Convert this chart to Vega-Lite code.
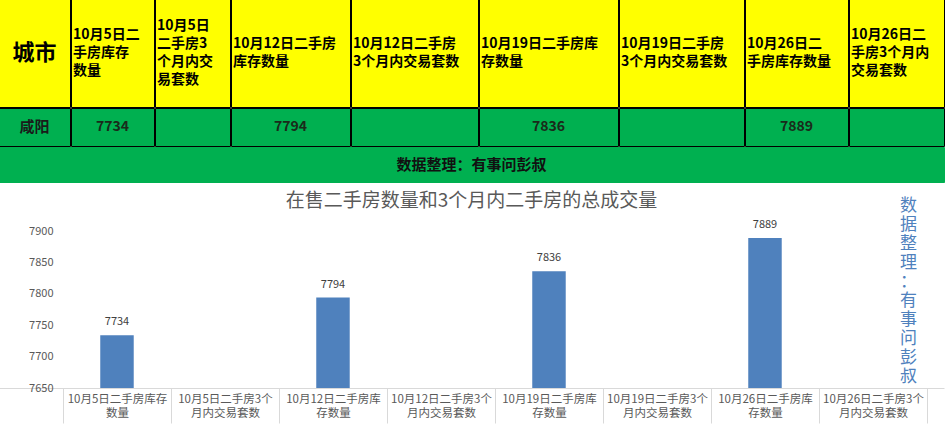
{
  "$schema": "https://vega.github.io/schema/vega-lite/v6.json",
  "padding": {"left": -2, "top": -2, "right": 0, "bottom": 0},
  "background": "white",
  "spacing": 8,
  "config": {"view": {"stroke": null}, "font": "Noto Sans CJK SC"},
  "vconcat": [
    {
      "spacing": -4,
      "vconcat": [
        {
          "spacing": -4,
          "hconcat": [
            {"width": 71, "height": 108, "view": {"fill": "#ffff00", "stroke": "#000000"},
             "data": {"values": [{"label": "城市"}]},
             "mark": {"type": "text", "fontSize": 22, "fontWeight": "bold", "color": "#000000"},
             "encoding": {"text": {"field": "label"}}},
            {"width": 83, "height": 108, "view": {"fill": "#ffff00", "stroke": "#000000"},
             "data": {"values": [{"label": ["10月5日二", "手房库存", "数量"]}]},
             "mark": {"type": "text", "align": "left", "dx": 2, "dy": -18, "fontSize": 14, "fontWeight": "bold", "lineHeight": 18, "color": "#000000"},
             "encoding": {"text": {"field": "label"}, "x": {"datum": 0, "scale": {"domain": [0, 1]}, "axis": null}}},
            {"width": 75, "height": 108, "view": {"fill": "#ffff00", "stroke": "#000000"},
             "data": {"values": [{"label": ["10月5日", "二手房3", "个月内交", "易套数"]}]},
             "mark": {"type": "text", "align": "left", "dx": 2, "dy": -27, "fontSize": 14, "fontWeight": "bold", "lineHeight": 18, "color": "#000000"},
             "encoding": {"text": {"field": "label"}, "x": {"datum": 0, "scale": {"domain": [0, 1]}, "axis": null}}},
            {"width": 119, "height": 108, "view": {"fill": "#ffff00", "stroke": "#000000"},
             "data": {"values": [{"label": ["10月12日二手房", "库存数量"]}]},
             "mark": {"type": "text", "align": "left", "dx": 2, "dy": -9, "fontSize": 14, "fontWeight": "bold", "lineHeight": 18, "color": "#000000"},
             "encoding": {"text": {"field": "label"}, "x": {"datum": 0, "scale": {"domain": [0, 1]}, "axis": null}}},
            {"width": 127, "height": 108, "view": {"fill": "#ffff00", "stroke": "#000000"},
             "data": {"values": [{"label": ["10月12日二手房", "3个月内交易套数"]}]},
             "mark": {"type": "text", "align": "left", "dx": 2, "dy": -9, "fontSize": 14, "fontWeight": "bold", "lineHeight": 18, "color": "#000000"},
             "encoding": {"text": {"field": "label"}, "x": {"datum": 0, "scale": {"domain": [0, 1]}, "axis": null}}},
            {"width": 139, "height": 108, "view": {"fill": "#ffff00", "stroke": "#000000"},
             "data": {"values": [{"label": ["10月19日二手房库", "存数量"]}]},
             "mark": {"type": "text", "align": "left", "dx": 2, "dy": -9, "fontSize": 14, "fontWeight": "bold", "lineHeight": 18, "color": "#000000"},
             "encoding": {"text": {"field": "label"}, "x": {"datum": 0, "scale": {"domain": [0, 1]}, "axis": null}}},
            {"width": 125, "height": 108, "view": {"fill": "#ffff00", "stroke": "#000000"},
             "data": {"values": [{"label": ["10月19日二手房", "3个月内交易套数"]}]},
             "mark": {"type": "text", "align": "left", "dx": 2, "dy": -9, "fontSize": 14, "fontWeight": "bold", "lineHeight": 18, "color": "#000000"},
             "encoding": {"text": {"field": "label"}, "x": {"datum": 0, "scale": {"domain": [0, 1]}, "axis": null}}},
            {"width": 103, "height": 108, "view": {"fill": "#ffff00", "stroke": "#000000"},
             "data": {"values": [{"label": ["10月26日二", "手房库存数量"]}]},
             "mark": {"type": "text", "align": "left", "dx": 2, "dy": -9, "fontSize": 14, "fontWeight": "bold", "lineHeight": 18, "color": "#000000"},
             "encoding": {"text": {"field": "label"}, "x": {"datum": 0, "scale": {"domain": [0, 1]}, "axis": null}}},
            {"width": 95, "height": 108, "view": {"fill": "#ffff00", "stroke": "#000000"},
             "data": {"values": [{"label": ["10月26日二", "手房3个月内", "交易套数"]}]},
             "mark": {"type": "text", "align": "left", "dx": 2, "dy": -18, "fontSize": 14, "fontWeight": "bold", "lineHeight": 18, "color": "#000000"},
             "encoding": {"text": {"field": "label"}, "x": {"datum": 0, "scale": {"domain": [0, 1]}, "axis": null}}}
          ]
        },
        {
          "spacing": -4,
          "hconcat": [
            {"width": 71, "height": 38, "view": {"fill": "#00b050", "stroke": "#000000"},
             "data": {"values": [{"v": "咸阳"}]},
             "mark": {"type": "text", "fontSize": 15, "fontWeight": "bold", "color": "#1a1a1a"},
             "encoding": {"text": {"field": "v"}}},
            {"width": 83, "height": 38, "view": {"fill": "#00b050", "stroke": "#000000"},
             "data": {"values": [{"v": "7734"}]},
             "mark": {"type": "text", "fontSize": 14, "fontWeight": "bold", "color": "#1a2a1a"},
             "encoding": {"text": {"field": "v"}}},
            {"width": 75, "height": 38, "view": {"fill": "#00b050", "stroke": "#000000"},
             "data": {"values": [{"v": ""}]},
             "mark": {"type": "text", "fontSize": 14},
             "encoding": {"text": {"field": "v"}}},
            {"width": 119, "height": 38, "view": {"fill": "#00b050", "stroke": "#000000"},
             "data": {"values": [{"v": "7794"}]},
             "mark": {"type": "text", "fontSize": 14, "fontWeight": "bold", "color": "#1a2a1a"},
             "encoding": {"text": {"field": "v"}}},
            {"width": 127, "height": 38, "view": {"fill": "#00b050", "stroke": "#000000"},
             "data": {"values": [{"v": ""}]},
             "mark": {"type": "text", "fontSize": 14},
             "encoding": {"text": {"field": "v"}}},
            {"width": 139, "height": 38, "view": {"fill": "#00b050", "stroke": "#000000"},
             "data": {"values": [{"v": "7836"}]},
             "mark": {"type": "text", "fontSize": 14, "fontWeight": "bold", "color": "#1a2a1a"},
             "encoding": {"text": {"field": "v"}}},
            {"width": 125, "height": 38, "view": {"fill": "#00b050", "stroke": "#000000"},
             "data": {"values": [{"v": ""}]},
             "mark": {"type": "text", "fontSize": 14},
             "encoding": {"text": {"field": "v"}}},
            {"width": 103, "height": 38, "view": {"fill": "#00b050", "stroke": "#000000"},
             "data": {"values": [{"v": "7889"}]},
             "mark": {"type": "text", "fontSize": 14, "fontWeight": "bold", "color": "#1a2a1a"},
             "encoding": {"text": {"field": "v"}}},
            {"width": 95, "height": 38, "view": {"fill": "#00b050", "stroke": "#000000"},
             "data": {"values": [{"v": ""}]},
             "mark": {"type": "text", "fontSize": 14},
             "encoding": {"text": {"field": "v"}}}
          ]
        },
        {
          "width": 945, "height": 35, "view": {"fill": "#00b050", "stroke": "#00b050"},
          "data": {"values": [{"t": "数据整理：有事问彭叔"}]},
          "mark": {"type": "text", "fontSize": 15, "fontWeight": "bold", "color": "#111111"},
          "encoding": {"text": {"field": "t"}}
        }
      ]
    },
    {
      "width": 945, "height": 197,
      "title": {"text": "在售二手房数量和3个月内二手房的总成交量", "fontSize": 19, "color": "#595959", "fontWeight": "normal", "offset": -19.5, "anchor": "middle"},
      "data": {"values": [
        {"item": "10月5日二手房库存数量", "count": 7734},
        {"item": "10月5日二手房3个月内交易套数", "count": null},
        {"item": "10月12日二手房库存数量", "count": 7794},
        {"item": "10月12日二手房3个月内交易套数", "count": null},
        {"item": "10月19日二手房库存数量", "count": 7836},
        {"item": "10月19日二手房3个月内交易套数", "count": null},
        {"item": "10月26日二手房库存数量", "count": 7889},
        {"item": "10月26日二手房3个月内交易套数", "count": null}
      ]},
      "encoding": {
        "x": {
          "field": "item", "type": "nominal", "sort": null,
          "scale": {
            "domain": ["10月5日二手房库存数量", "10月5日二手房3个月内交易套数", "10月12日二手房库存数量", "10月12日二手房3个月内交易套数", "10月19日二手房库存数量", "10月19日二手房3个月内交易套数", "10月26日二手房库存数量", "10月26日二手房3个月内交易套数"],
            "paddingInner": 0, "paddingOuter": 0.375, "align": 0.79
          },
          "axis": {
            "title": null,
            "labelExpr": "[slice(datum.label,0,indexof(datum.label,'3个')>0?indexof(datum.label,'3个')+2:10),slice(datum.label,indexof(datum.label,'3个')>0?indexof(datum.label,'3个')+2:10)]",
            "labelFontSize": 11.5, "labelColor": "#595959", "labelLineHeight": 14,
            "labelPadding": -30, "tickSize": 35, "tickBand": "extent",
            "tickColor": "#d9d9d9", "domainColor": "#d9d9d9",
            "labelAngle": 0, "labelOverlap": false, "labelLimit": 200, "labelBaseline": "top"
          }
        }
      },
      "layer": [
        {
          "mark": {"type": "bar", "color": "#4f81bd", "width": {"band": 0.31}},
          "encoding": {
            "y": {
              "field": "count", "type": "quantitative",
              "scale": {"domain": [7650, 7963.7], "zero": false, "nice": false},
              "axis": {
                "title": null, "values": [7650, 7700, 7750, 7800, 7850, 7900], "format": "d",
                "labelColor": "#595959", "labelFontSize": 11, "ticks": false, "tickSize": 0,
                "domain": false, "grid": false, "labelPadding": 0, "offset": -54
              }
            },
            "y2": {"datum": 7650}
          }
        },
        {
          "mark": {"type": "text", "baseline": "bottom", "dy": -8, "fontSize": 11, "color": "#404040"},
          "encoding": {
            "y": {
              "field": "count", "type": "quantitative",
              "axis": {
                "orient": "right", "labels": false, "ticks": false, "domain": false, "grid": false,
                "title": ["数", "据", "整", "理", "：", "有", "事", "问", "彭", "叔"],
                "titleAngle": 0, "titleAlign": "center", "titleBaseline": "top",
                "titleX": -36, "titleY": 6, "titleColor": "#4f81bd", "titleFontSize": 17,
                "titleFontWeight": "normal", "titleLineHeight": 19
              }
            },
            "text": {"field": "count", "type": "quantitative", "format": "d"}
          }
        }
      ],
      "resolve": {"axis": {"y": "independent"}}
    }
  ]
}
